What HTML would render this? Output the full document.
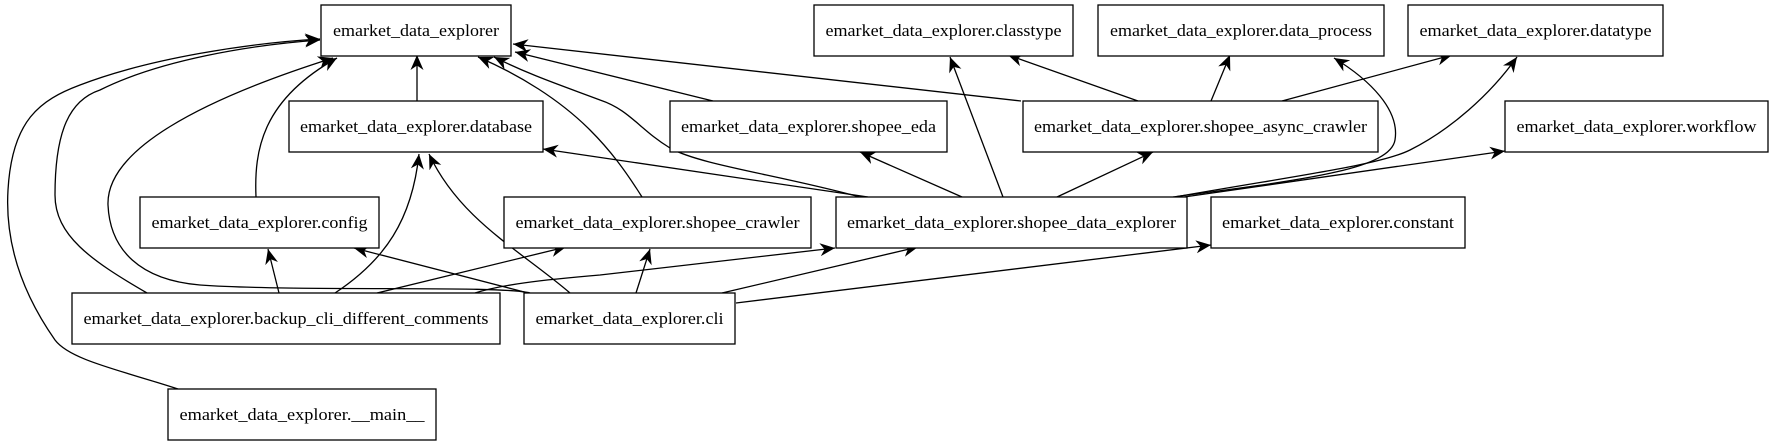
<!DOCTYPE html>
<html><head><meta charset="utf-8"><style>
html,body{margin:0;padding:0;background:#fff;}
svg{display:block;}
text{font-family:"Liberation Serif",serif;font-size:17px;fill:#000;}
</style></head><body>
<svg width="1773" height="443" viewBox="0 0 1773 443" xmlns="http://www.w3.org/2000/svg">
<defs>
<marker id="a" markerUnits="userSpaceOnUse" markerWidth="16" markerHeight="14" refX="15" refY="6.5" orient="auto">
<path d="M0,0 L15,6.5 L0,13 L4.5,6.5 Z" fill="#000"/>
</marker>
</defs>
<g fill="none" stroke="#000" stroke-width="1.3" marker-end="url(#a)">
<path d="M417,101 L417,55"/>
<path d="M256,197 C254,150 262,100 337,58"/>
<path d="M335,293 C385,260 412,220 419,154"/>
<path d="M147,293 C90,260 55,235 55,195 C55,130 70,100 100,90 C160,60 250,45 320,40"/>
<path d="M178,389 C120,370 70,360 55,340 C20,290 5,240 8,190 C12,120 40,100 80,85 C150,58 250,43 320,39"/>
<path d="M530,293 C500,285 300,292 200,285 C140,280 110,250 108,205 C106,150 200,100 333,58"/>
<path d="M528,293 L354,248"/>
<path d="M279,293 L268,249"/>
<path d="M570,293 C520,250 460,220 429,154"/>
<path d="M377,293 L566,247"/>
<path d="M636,293 L650,249"/>
<path d="M475,293 C500,285 540,280 600,275 L835,248"/>
<path d="M722,293 L918,247"/>
<path d="M736,303 L1211,245"/>
<path d="M962,197 L860,152"/>
<path d="M1003,197 L950,57"/>
<path d="M1057,197 L1153,152"/>
<path d="M868,197 L543,149"/>
<path d="M860,197 C780,175 700,165 670,148 C640,130 630,110 600,100 C560,85 530,75 494,57"/>
<path d="M642,197 C625,170 610,150 590,130 C560,100 520,75 478,57"/>
<path d="M713,101 L515,52"/>
<path d="M1021,101 L513,44"/>
<path d="M1138,101 L1008,55"/>
<path d="M1211,101 L1230,55"/>
<path d="M1282,101 L1452,55"/>
<path d="M1173,197 C1300,180 1390,170 1395,140 C1400,110 1370,80 1334,58"/>
<path d="M1175,197 C1300,175 1380,165 1410,150 C1450,130 1490,95 1517,57"/>
<path d="M1184,197 L1505,151"/>
</g>
<g fill="#fff" stroke="#000" stroke-width="1.3">
<rect x="321" y="5" width="190" height="51"/>
<rect x="814" y="5" width="259" height="51"/>
<rect x="1098" y="5" width="286" height="51"/>
<rect x="1408" y="5" width="255" height="51"/>
<rect x="289" y="101" width="254" height="51"/>
<rect x="670" y="101" width="277" height="51"/>
<rect x="1023" y="101" width="355" height="51"/>
<rect x="1505" y="101" width="263" height="51"/>
<rect x="140" y="197" width="239" height="51"/>
<rect x="504" y="197" width="307" height="51"/>
<rect x="836" y="197" width="351" height="51"/>
<rect x="1211" y="197" width="254" height="51"/>
<rect x="72" y="293" width="428" height="51"/>
<rect x="524" y="293" width="211" height="51"/>
<rect x="168" y="389" width="268" height="51"/>
</g>
<g text-anchor="middle">
<text x="416" y="36" textLength="166" lengthAdjust="spacingAndGlyphs">emarket_data_explorer</text>
<text x="943.5" y="36" textLength="236" lengthAdjust="spacingAndGlyphs">emarket_data_explorer.classtype</text>
<text x="1241" y="36" textLength="262" lengthAdjust="spacingAndGlyphs">emarket_data_explorer.data_process</text>
<text x="1535.5" y="36" textLength="232" lengthAdjust="spacingAndGlyphs">emarket_data_explorer.datatype</text>
<text x="416" y="132" textLength="232" lengthAdjust="spacingAndGlyphs">emarket_data_explorer.database</text>
<text x="808.5" y="132" textLength="255" lengthAdjust="spacingAndGlyphs">emarket_data_explorer.shopee_eda</text>
<text x="1200.5" y="132" textLength="333" lengthAdjust="spacingAndGlyphs">emarket_data_explorer.shopee_async_crawler</text>
<text x="1636.5" y="132" textLength="240" lengthAdjust="spacingAndGlyphs">emarket_data_explorer.workflow</text>
<text x="259.5" y="228" textLength="216" lengthAdjust="spacingAndGlyphs">emarket_data_explorer.config</text>
<text x="657.5" y="228" textLength="284" lengthAdjust="spacingAndGlyphs">emarket_data_explorer.shopee_crawler</text>
<text x="1011.5" y="228" textLength="329" lengthAdjust="spacingAndGlyphs">emarket_data_explorer.shopee_data_explorer</text>
<text x="1338" y="228" textLength="232" lengthAdjust="spacingAndGlyphs">emarket_data_explorer.constant</text>
<text x="286" y="324" textLength="405" lengthAdjust="spacingAndGlyphs">emarket_data_explorer.backup_cli_different_comments</text>
<text x="629.5" y="324" textLength="188" lengthAdjust="spacingAndGlyphs">emarket_data_explorer.cli</text>
<text x="302" y="420" textLength="245" lengthAdjust="spacingAndGlyphs">emarket_data_explorer.__main__</text>
</g>
</svg>
</body></html>
